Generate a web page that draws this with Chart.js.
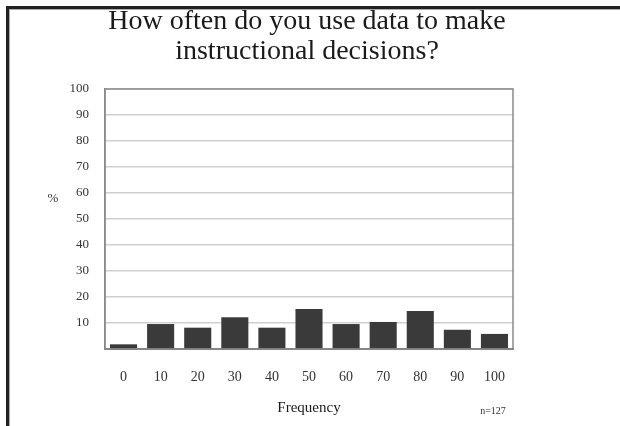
<!DOCTYPE html>
<html>
<head>
<meta charset="utf-8">
<script src="https://cdn.jsdelivr.net/npm/chart.js@4"></script>
<style>
  html, body { margin: 0; padding: 0; background: #fff; }
  #wrap { width: 620px; height: 426px; position: relative; }
</style>
</head>
<body>
<div id="wrap"><canvas id="chart" width="620" height="426"></canvas></div>
<script>
// Share of respondents (%) by how often they use data for instructional decisions
const categories = ['0', '10', '20', '30', '40', '50', '60', '70', '80', '90', '100'];
const percentValues = [1.8, 9.6, 8.2, 12.2, 8.2, 15.4, 9.6, 10.4, 14.6, 7.4, 5.8];
const yTickValues = [10, 20, 30, 40, 50, 60, 70, 80, 90, 100];
const titleLines = ['How often do you use data to make', 'instructional decisions?'];
const xAxisTitle = 'Frequency';
const yAxisTitle = '%';
const sampleNote = 'n=127';

const SERIF = '"Liberation Serif", "DejaVu Serif", serif';

// Slide frame, heading, plot outline, "%" label and sample-size note
const decorations = {
  id: 'decorations',
  beforeDraw(chart) {
    const ctx = chart.ctx;
    ctx.save();
    ctx.fillStyle = '#fff';
    ctx.fillRect(0, 0, chart.width, chart.height);
    ctx.fillStyle = '#222';
    ctx.fillRect(6, 6, chart.width - 6, 3);
    ctx.fillRect(6, 6, 3, chart.height - 6);
    ctx.fillStyle = '#aaa';
    ctx.fillRect(9, 9, chart.width - 9, 1);
    ctx.fillRect(9, 9, 1, chart.height - 9);
    ctx.fillStyle = '#1a1a1a';
    ctx.font = '28px ' + SERIF;
    ctx.textAlign = 'center';
    ctx.textBaseline = 'middle';
    titleLines.forEach((line, i) => ctx.fillText(line, 307, 22 + i * 30));
    ctx.restore();
  },
  afterDraw(chart) {
    const ctx = chart.ctx;
    const a = chart.chartArea;
    ctx.save();
    ctx.strokeStyle = '#8a8a8a';
    ctx.lineWidth = 1.5;
    ctx.strokeRect(a.left, a.top, a.right - a.left, a.bottom - a.top);
    ctx.fillStyle = '#333';
    ctx.font = '13px ' + SERIF;
    ctx.textAlign = 'center';
    ctx.textBaseline = 'middle';
    ctx.fillText(yAxisTitle, 53, 199);
    ctx.font = '10px ' + SERIF;
    ctx.fillText(sampleNote, 493, 411);
    ctx.restore();
  }
};

new Chart(document.getElementById('chart'), {
  type: 'bar',
  data: {
    labels: categories,
    datasets: [{
      data: percentValues,
      backgroundColor: '#3a3a3a',
      borderWidth: 0,
      barPercentage: 0.73,
      categoryPercentage: 1
    }]
  },
  options: {
    responsive: false,
    animation: false,
    devicePixelRatio: 1,
    layout: { padding: { left: 0, right: 107, top: 89, bottom: 0 } },
    plugins: {
      legend: { display: false },
      tooltip: { enabled: false },
      title: { display: false }
    },
    scales: {
      x: {
        grid: { display: false, drawTicks: false },
        border: { display: true, color: '#777', width: 2 },
        ticks: {
          color: '#333',
          font: { family: SERIF, size: 14 },
          padding: 20,
          maxRotation: 0
        },
        title: {
          display: true,
          text: xAxisTitle,
          color: '#1a1a1a',
          font: { family: SERIF, size: 15 },
          padding: { top: 0, bottom: 9 }
        },
        afterFit(scale) { scale.height = 77; }
      },
      y: {
        min: 0,
        max: 100,
        afterBuildTicks(scale) {
          scale.ticks = [{ value: 0 }].concat(yTickValues.map(v => ({ value: v })));
        },
        grid: { color: '#cfcfcf', lineWidth: 1.5, drawTicks: false },
        border: { display: true, color: '#8a8a8a', width: 1.5 },
        ticks: {
          color: '#333',
          font: { family: SERIF, size: 13 },
          padding: 16,
          callback: (v) => (v === 0 ? '' : String(v))
        },
        afterFit(scale) { scale.width = 105; }
      }
    }
  },
  plugins: [decorations]
});
</script>
</body>
</html>
